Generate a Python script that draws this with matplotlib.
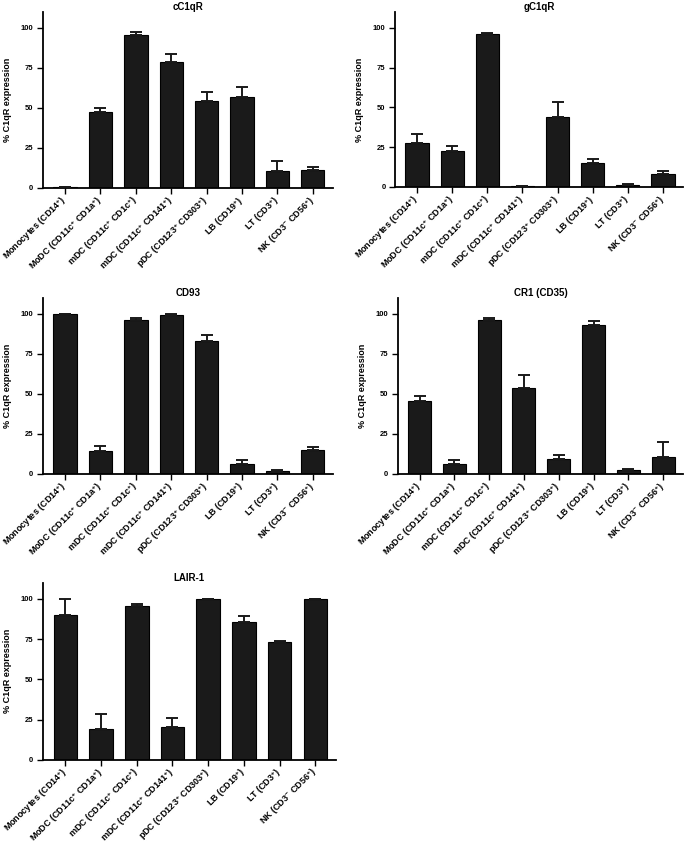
import matplotlib
matplotlib.use('Agg')
import matplotlib.pyplot as plt
import matplotlib.transforms as mtransforms
import numpy as np

plt.rcParams['font.family'] = ['Liberation Sans', 'DejaVu Sans']
plt.rcParams['font.weight'] = 'bold'
plt.rcParams['mathtext.fontset'] = 'custom'
plt.rcParams['mathtext.rm'] = 'Liberation Sans:bold'
plt.rcParams['mathtext.bf'] = 'Liberation Sans:bold'
plt.rcParams['mathtext.default'] = 'rm'

cell_types = [
    r'Monocytes (CD14$^{+}$)',
    r'MoDC (CD11c$^{+}$ CD1a$^{+}$)',
    r'mDC (CD11c$^{+}$ CD1c$^{+}$)',
    r'mDC (CD11c$^{+}$ CD141$^{+}$)',
    r'pDC (CD123$^{+}$ CD303$^{+}$)',
    r'LB (CD19$^{+}$)',
    r'LT (CD3$^{+}$)',
    r'NK (CD3$^{-}$ CD56$^{+}$)',
]

# mean and upper error (SEM) per receptor
cc1qr_mean = [0.5, 47.2, 95.8, 78.6, 54.0, 57.0, 10.2, 11.2]
cc1qr_err = [0.2, 2.7, 1.5, 5.0, 5.7, 5.8, 6.6, 1.7]

gc1qr_mean = [27.7, 22.3, 96.0, 0.5, 44.0, 14.8, 1.5, 8.1]
gc1qr_err = [5.4, 3.5, 1.0, 0.2, 9.5, 2.7, 0.3, 2.1]

cd93_mean = [100.0, 14.2, 96.0, 99.2, 83.0, 6.3, 2.0, 14.9]
cd93_err = [0.0, 3.2, 1.5, 0.4, 3.8, 2.5, 0.3, 2.1]

cr1_mean = [45.6, 5.9, 96.2, 53.3, 9.2, 92.9, 2.5, 10.7]
cr1_err = [3.1, 2.9, 1.3, 8.2, 2.5, 2.9, 0.3, 9.2]

lair1_mean = [90.2, 19.2, 95.6, 20.6, 99.8, 85.4, 73.5, 99.8]
lair1_err = [9.8, 9.1, 1.5, 5.2, 0.2, 3.8, 0.5, 0.2]

titles = ['cC1qR', 'gC1qR', 'CD93', 'CR1 (CD35)', 'LAIR-1']
means = [cc1qr_mean, gc1qr_mean, cd93_mean, cr1_mean, lair1_mean]
errs = [cc1qr_err, gc1qr_err, cd93_err, cr1_err, lair1_err]

# axes boxes in figure fraction [left, bottom, width, height]
boxes = [
    [0.063, 0.778, 0.423, 0.208],
    [0.577, 0.779, 0.420, 0.207],
    [0.063, 0.440, 0.423, 0.208],
    [0.581, 0.440, 0.416, 0.208],
    [0.063, 0.102, 0.427, 0.209],
]

fig = plt.figure(figsize=(6.85, 8.46), dpi=100)
shift = mtransforms.ScaledTranslation(6 / 100, 0, fig.dpi_scale_trans)

for title, m, e, box in zip(titles, means, errs, boxes):
    ax = fig.add_axes(box)
    x = np.arange(len(cell_types))
    ax.bar(x, m, width=0.66, color='#1a1a1a', edgecolor='black', linewidth=0.8, zorder=2)
    ax.errorbar(x, m, yerr=[np.zeros(len(m)), e], fmt='none', ecolor='#1a1a1a',
                elinewidth=1.4, capsize=4.5, capthick=1.4, zorder=3)
    ax.set_xlim(-0.62, 7.57)
    ax.set_ylim(0, 110)
    ax.set_yticks([0, 25, 50, 75, 100])
    ax.set_xticks(x)
    ax.set_xticklabels(cell_types, rotation=45, ha='right', va='center',
                       rotation_mode='anchor', fontsize=6.5, fontweight='bold')
    for lab in ax.get_xticklabels():
        lab.set_transform(lab.get_transform() + shift)
    ax.tick_params(axis='y', labelsize=5.5, length=4, width=1, pad=3)
    ax.tick_params(axis='x', length=4, width=1, pad=4)
    for lab in ax.get_yticklabels():
        lab.set_fontweight('bold')
    ax.spines['top'].set_visible(False)
    ax.spines['right'].set_visible(False)
    ax.spines['left'].set_linewidth(1.3)
    ax.spines['bottom'].set_linewidth(1.3)
    ax.set_ylabel('% C1qR expression', fontsize=6.5, fontweight='bold', labelpad=6)
    ax.set_title(title, fontsize=7, fontweight='bold', pad=1)

fig.savefig('out.png', dpi=100)
